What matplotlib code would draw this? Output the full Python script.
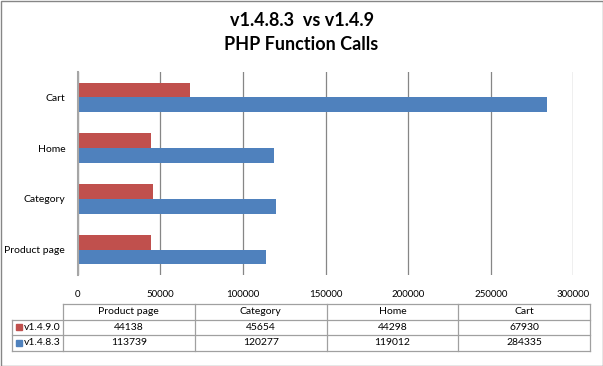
import matplotlib.pyplot as plt
from matplotlib.patches import Rectangle

categories = ['Product page', 'Category', 'Home', 'Cart']
series_names = ['v1.4.9.0', 'v1.4.8.3']
v149 = [44138, 45654, 44298, 67930]
v1483 = [113739, 120277, 119012, 284335]
colors = ['#C0504D', '#4F81BD']
xticks = [0, 50000, 100000, 150000, 200000, 250000, 300000]

plt.rcParams['font.family'] = ['Lato', 'DejaVu Sans']

W, H = 603, 366
fig = plt.figure(figsize=(W / 100, H / 100), dpi=100)

# plot area in pixel coords (left, top, right, bottom)
L, T, R, B = 77.7, 72, 573.3, 275
ax = fig.add_axes([L / W, 1 - B / H, (R - L) / W, (B - T) / H])

bh = 0.29
ypos = list(range(len(categories)))
ax.barh([y + bh / 2 for y in ypos], v149, height=bh, color=colors[0], zorder=3)
ax.barh([y - bh / 2 for y in ypos], v1483, height=bh, color=colors[1], zorder=3)

ax.set_xlim(0, 300000)
ax.set_ylim(-0.5, len(categories) - 0.5)
ax.set_xticks(xticks)
ax.set_xticklabels([str(t) for t in xticks], fontsize=7)
ax.set_yticks(ypos)
ax.set_yticklabels(categories, fontsize=7.5)
ax.tick_params(axis='x', length=0, pad=11)
ax.tick_params(axis='y', length=0, pad=9)
ax.grid(axis='x', color='#868686', linewidth=0.9, zorder=0)
for s in ['top', 'right', 'bottom']:
    ax.spines[s].set_visible(False)
ax.spines['left'].set_color('#A6A6A6')
ax.spines['left'].set_linewidth(1.5)
ax.spines['left'].set_zorder(4)

fig.text(0.5, 1 - 21 / H, 'v1.4.8.3  vs v1.4.9', ha='center', va='center',
         fontsize=13, fontweight='bold')
fig.text(0.5, 1 - 45 / H, 'PHP Function Calls', ha='center', va='center',
         fontsize=13, fontweight='bold')

# data table below the chart, drawn in pixel coords
tax = fig.add_axes([0, 0, 1, 1], zorder=5)
tax.set_xlim(0, W)
tax.set_ylim(H, 0)
tax.axis('off')
tax.patch.set_alpha(0)

lc = '#A0A0A0'
x0, x1 = 12, 63
col_w = (590 - x1) / len(categories)
rows_y = [304, 319.5, 335, 350.5]
col_x = [x1 + i * col_w for i in range(len(categories) + 1)]

# header row lines
tax.plot([x1, col_x[-1]], [rows_y[0], rows_y[0]], color=lc, lw=0.9)
for y in rows_y[1:]:
    tax.plot([x0, col_x[-1]], [y, y], color=lc, lw=0.9)
tax.plot([x0, x0], [rows_y[1], rows_y[-1]], color=lc, lw=0.9)
for x in col_x:
    tax.plot([x, x], [rows_y[0], rows_y[-1]], color=lc, lw=0.9)

for i, c in enumerate(categories):
    tax.text(col_x[i] + col_w / 2, (rows_y[0] + rows_y[1]) / 2, c,
             ha='center', va='center', fontsize=7.5)

for r, (name, vals) in enumerate(zip(series_names, [v149, v1483])):
    yc = (rows_y[r + 1] + rows_y[r + 2]) / 2
    tax.add_patch(Rectangle((16, yc - 3), 6, 6, color=colors[r]))
    tax.text(24, yc, name, ha='left', va='center', fontsize=7.5)
    for i, v in enumerate(vals):
        tax.text(col_x[i] + col_w / 2, yc, str(v), ha='center', va='center',
                 fontsize=7.5)

# chart border
tax.add_patch(Rectangle((0.5, 0.5), W - 1, H - 1, fill=False, edgecolor='#868686', lw=1))

fig.savefig('out.png', dpi=100)
